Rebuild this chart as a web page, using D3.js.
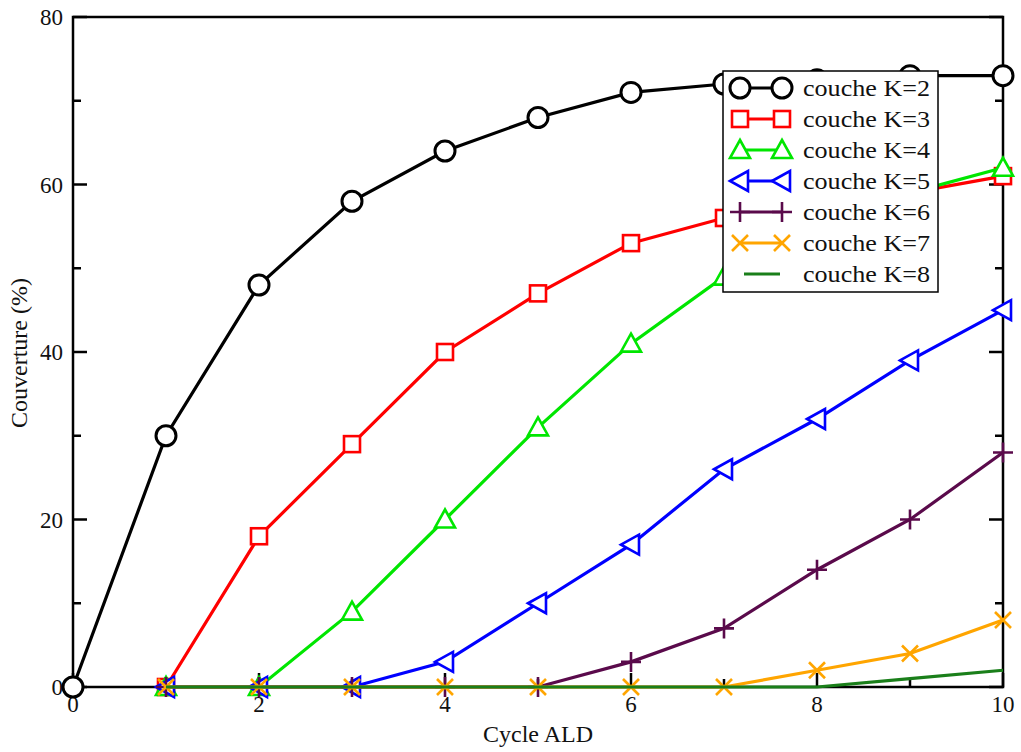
<!DOCTYPE html>
<html><head><meta charset="utf-8">
<script src="https://cdn.jsdelivr.net/npm/d3@7"></script>
<style>body{margin:0;background:#fff}svg{display:block}</style>
</head><body>
<svg id="c" width="1021" height="752"></svg>
<script>
const cycles = [0,1,2,3,4,5,6,7,8,9,10];
const labels = ["couche K=2","couche K=3","couche K=4","couche K=5","couche K=6","couche K=7","couche K=8"];
const colors = ["#000000","#ff0000","#00e600","#0000ff","#5a0a4b","#ffa500","#1a7f1a"];
const symbols = ["circle","square","triangle","ltriangle","plus","cross","none"];
const k2 = [0,30,48,58,64,68,71,72,72.5,73,73];
const k3 = [null,0,18,29,40,47,53,56,58,59,61];
const k4 = [null,0,0,9,20,31,41,49,55,59,62];
const k5 = [null,0,0,0,3,10,17,26,32,39,45];
const k6 = [null,0,0,0,0,0,3,7,14,20,28];
const k7 = [null,0,0,0,0,0,0,0,2,4,8];
const k8 = [null,0,0,0,0,0,0,0,0,1,2];
const series = [k2,k3,k4,k5,k6,k7,k8];
const xTicks = [0,2,4,6,8,10];
const yTicks = [0,20,40,60,80];

const svg = d3.select("#c");
const x = d3.scaleLinear().domain([0,10]).range([73,1003]);
const y = d3.scaleLinear().domain([0,80]).range([687,17]);
const font = "'Liberation Serif','Times New Roman',serif";

function drawSymbol(g, type, cx, cy, color){
  const sw = 2.6;
  if(type==="circle"){
    g.append("circle").attr("cx",cx).attr("cy",cy).attr("r",10).attr("fill","#fff").attr("stroke",color).attr("stroke-width",3);
  } else if(type==="square"){
    g.append("rect").attr("x",cx-8).attr("y",cy-8).attr("width",16).attr("height",16).attr("fill","#fff").attr("stroke",color).attr("stroke-width",sw);
  } else if(type==="triangle"){
    g.append("path").attr("d",`M${cx},${cy-10}L${cx+10},${cy+8}L${cx-10},${cy+8}Z`).attr("fill","#fff").attr("stroke",color).attr("stroke-width",sw);
  } else if(type==="ltriangle"){
    g.append("path").attr("d",`M${cx-10},${cy}L${cx+8},${cy-10}L${cx+8},${cy+10}Z`).attr("fill","#fff").attr("stroke",color).attr("stroke-width",sw);
  } else if(type==="plus"){
    g.append("path").attr("d",`M${cx-10},${cy}H${cx+10}M${cx},${cy-10}V${cy+10}`).attr("stroke",color).attr("stroke-width",sw);
  } else if(type==="cross"){
    g.append("path").attr("d",`M${cx-8},${cy-8}L${cx+8},${cy+8}M${cx-8},${cy+8}L${cx+8},${cy-8}`).attr("stroke",color).attr("stroke-width",sw);
  }
}

// frame
svg.append("rect").attr("x",73).attr("y",17).attr("width",930).attr("height",670).attr("fill","none").attr("stroke","#000").attr("stroke-width",2.5);

// axes ticks (inward)
const gx = svg.append("g");
d3.range(0,11,1).forEach(v=>{
  const len = v%2===0 ? 14 : 8;
  gx.append("line").attr("x1",x(v)).attr("x2",x(v)).attr("y1",687).attr("y2",687-len).attr("stroke","#000").attr("stroke-width",2.5);
});
d3.range(0,81,10).forEach(v=>{
  const len = v%20===0 ? 14 : 8;
  gx.append("line").attr("x1",73).attr("x2",73+len).attr("y1",y(v)).attr("y2",y(v)).attr("stroke","#000").attr("stroke-width",2.5);
  gx.append("line").attr("x1",1003).attr("x2",1003-len).attr("y1",y(v)).attr("y2",y(v)).attr("stroke","#000").attr("stroke-width",2.5);
});
xTicks.forEach(v=>{
  svg.append("text").attr("x",x(v)).attr("y",712).attr("text-anchor","middle").attr("font-family",font).attr("font-size",23).attr("fill","#111").text(v);
});
yTicks.forEach(v=>{
  svg.append("text").attr("x",63).attr("y",y(v)+8).attr("text-anchor","end").attr("font-family",font).attr("font-size",23).attr("fill","#111").text(v);
});
svg.append("text").attr("x",538).attr("y",742).attr("text-anchor","middle").attr("font-family",font).attr("font-size",24).attr("fill","#111").text("Cycle ALD");
svg.append("text").attr("transform","translate(27,353) rotate(-90)").attr("text-anchor","middle").attr("font-family",font).attr("font-size",24).attr("fill","#111").text("Couverture (%)");

// series
const line = d3.line().defined(d=>d.v!==null).x(d=>x(d.c)).y(d=>y(d.v));
series.forEach((s,i)=>{
  const pts = cycles.map((c,j)=>({c:c,v:s[j]}));
  const g = svg.append("g");
  g.append("path").datum(pts).attr("d",line).attr("fill","none").attr("stroke",colors[i]).attr("stroke-width",3.2);
  pts.filter(d=>d.v!==null).forEach(d=>drawSymbol(g,symbols[i],x(d.c),y(d.v),colors[i]));
});

// legend
const lg = svg.append("g");
lg.append("rect").attr("x",723).attr("y",71).attr("width",215).attr("height",221).attr("fill","#fff").attr("stroke","#000").attr("stroke-width",1.5);
labels.forEach((t,i)=>{
  const cy = 88 + i*31;
  lg.append("line").attr("x1",i===6?744:740).attr("x2",i===6?780:782).attr("y1",cy).attr("y2",cy).attr("stroke",colors[i]).attr("stroke-width",3.2);
  drawSymbol(lg,symbols[i],740,cy,colors[i]);
  drawSymbol(lg,symbols[i],782,cy,colors[i]);
  lg.append("text").attr("x",803).attr("y",cy+8).attr("font-family",font).attr("font-size",24).attr("textLength",127).attr("lengthAdjust","spacingAndGlyphs").attr("fill","#111").text(t);
});
</script>
</body></html>
